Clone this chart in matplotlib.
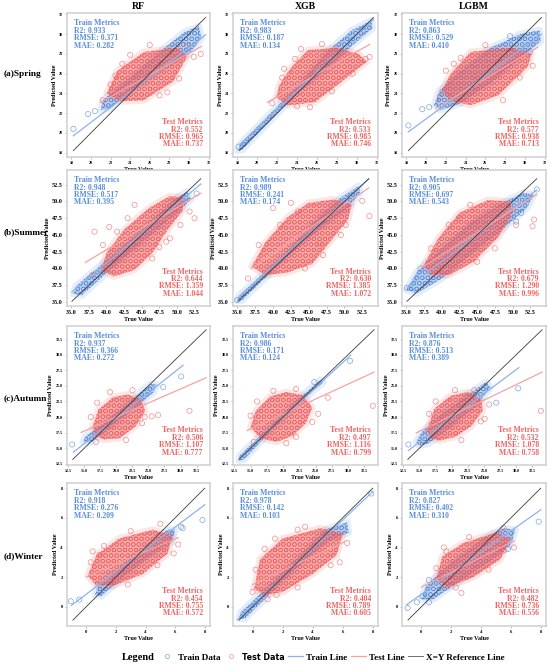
import matplotlib
matplotlib.use('Agg')
import matplotlib.pyplot as plt
from matplotlib.patches import Polygon
from matplotlib.lines import Line2D
from matplotlib.colors import to_rgba

plt.rcParams['font.family'] = ['Liberation Serif', 'DejaVu Serif']
plt.rcParams['hatch.linewidth'] = 0.4

# ---------------- data ----------------
seasons = ['(a)Spring', '(b)Summer', '(c)Autumn', '(d)Winter']
models = ['RF', 'XGB', 'LGBM']

axis_limits = [(17.55, 32.15), (34.4, 54.7), (12.3, 34.6), (-1.3, 8.35)]
tick_values = [[18, 20, 22, 24, 26, 28, 30, 32],
               [35.0, 37.5, 40.0, 42.5, 45.0, 47.5, 50.0, 52.5],
               [12.5, 15.0, 17.5, 20.0, 22.5, 25.0, 27.5, 30.0, 32.5],
               [0, 2, 4, 6, 8]]
tick_labels = [['18', '20', '22', '24', '26', '28', '30', '32'],
               ['35.0', '37.5', '40.0', '42.5', '45.0', '47.5', '50.0', '52.5'],
               ['12.5', '15.0', '17.5', '20.0', '22.5', '25.0', '27.5', '30.0', '32.5'],
               ['0', '2', '4', '6', '8']]

# (R2, RMSE, MAE)
train_metrics = [[(0.933, 0.371, 0.282), (0.983, 0.187, 0.134), (0.863, 0.529, 0.410)],
                 [(0.948, 0.517, 0.395), (0.989, 0.241, 0.174), (0.905, 0.697, 0.543)],
                 [(0.937, 0.366, 0.272), (0.986, 0.171, 0.124), (0.876, 0.513, 0.389)],
                 [(0.918, 0.276, 0.209), (0.978, 0.142, 0.103), (0.827, 0.402, 0.310)]]
test_metrics = [[(0.552, 0.965, 0.737), (0.533, 0.985, 0.746), (0.577, 0.938, 0.713)],
                [(0.644, 1.359, 1.044), (0.630, 1.385, 1.072), (0.679, 1.290, 0.996)],
                [(0.506, 1.107, 0.777), (0.497, 1.116, 0.799), (0.532, 1.078, 0.758)],
                [(0.454, 0.755, 0.572), (0.404, 0.789, 0.605), (0.482, 0.736, 0.556)]]

# fitted lines (slope, intercept)
train_fit = [[(0.758, 5.91), (0.94, 1.70), (0.733, 6.76)],
             [(0.88, 5.62), (0.97, 1.55), (0.80, 9.02)],
             [(0.815, 3.52), (0.96, 0.73), (0.777, 4.31)],
             [(0.755, 0.845), (0.96, 0.09), (0.713, 0.84)]]
test_fit = [[(0.55, 11.56), (0.57, 11.12), (0.60, 9.90)],
            [(0.63, 17.59), (0.73, 13.04), (0.677, 14.92)],
            [(0.45, 11.0), (0.48, 10.88), (0.50, 10.2)],
            [(0.427, 2.01), (0.47, 1.50), (0.50, 1.33)]]
train_x_range = [(18.2, 31.7), (35.1, 53.4), (13.3, 30.4), (-1.0, 8.0)]
test_x_range = [(21.0, 31.3), (37.0, 53.4), (14.5, 34.0), (0.0, 6.2)]
ref_range = [(18.2, 31.7), (35.1, 53.4), (13.2, 34.0), (-0.9, 8.0)]

# dense point clouds (outline of the mass of overlapping markers)
train_cloud = [
    [[(21.0, 22.3), (21.2, 23.3), (24.0, 25.6), (27.5, 28.6), (29.5, 30.2), (31.0, 30.8), (31.3, 29.6), (30.0, 28.0), (27.5, 26.5), (24.0, 24.2), (22.0, 22.5)],
     [(18.0, 18.2), (18.3, 18.9), (24.0, 24.7), (27.0, 28.2), (29.5, 30.4), (31.5, 31.4), (31.6, 30.6), (29.5, 28.8), (27.5, 26.8), (24.0, 24.0), (18.5, 18.3)],
     [(20.8, 22.8), (21.3, 24.2), (23.5, 26.3), (26.5, 28.6), (29.5, 30.0), (31.5, 30.4), (31.6, 29.3), (29.5, 27.5), (26.5, 25.0), (23.5, 23.0), (21.5, 22.3)]],
    [[(35.3, 36.2), (35.6, 37.3), (40.0, 41.2), (45.0, 45.8), (49.5, 50.2), (51.5, 51.5), (52.0, 50.3), (50.0, 48.3), (45.0, 43.8), (40.0, 39.3), (36.5, 36.0)],
     [(35.0, 35.2), (35.2, 35.9), (42.0, 42.6), (46.5, 47.8), (49.5, 50.6), (52.0, 52.3), (52.2, 51.3), (50.3, 48.8), (47.0, 46.3), (42.0, 41.7), (35.6, 35.2)],
     [(35.0, 36.8), (36.5, 39.5), (40.0, 43.0), (44.0, 46.8), (48.0, 49.5), (51.5, 51.3), (53.0, 51.0), (52.0, 49.0), (48.5, 45.8), (44.0, 42.0), (40.0, 38.5), (36.5, 36.3)]],
    [[(14.8, 16.0), (15.2, 16.9), (19.0, 19.8), (22.5, 22.9), (25.3, 25.3), (26.3, 25.2), (25.8, 24.0), (23.0, 21.5), (19.0, 18.3), (16.0, 15.9)],
     [(13.2, 13.0), (13.3, 13.8), (18.0, 18.5), (22.0, 22.6), (25.8, 26.0), (26.2, 25.6), (22.5, 22.2), (18.0, 17.6), (14.0, 13.2)],
     [(14.5, 16.0), (15.3, 17.5), (18.5, 20.5), (22.5, 23.6), (25.3, 25.6), (26.0, 24.8), (24.0, 22.0), (20.0, 18.5), (16.5, 15.8), (15.0, 15.4)]],
    [[(0.6, 0.8), (0.8, 1.5), (2.5, 2.8), (4.5, 4.4), (5.5, 5.2), (6.0, 5.2), (5.8, 4.4), (4.3, 3.4), (2.5, 2.0), (1.0, 0.7)],
     [(-0.9, -0.8), (-0.8, -0.4), (2.5, 2.8), (4.8, 5.2), (6.3, 5.7), (6.4, 5.0), (5.0, 4.4), (2.5, 2.2), (-0.5, -0.8)],
     [(0.0, 0.5), (0.3, 1.4), (2.0, 3.0), (4.0, 4.5), (5.5, 5.3), (6.3, 5.2), (6.0, 4.2), (4.5, 3.0), (2.5, 1.7), (0.8, 0.5)]]]

test_cloud = [
    [[(21.6, 24.0), (22.7, 26.3), (25.4, 28.2), (28.8, 28.6), (29.8, 27.7), (28.4, 25.2), (25.4, 23.3), (23.0, 23.2)],
     [(21.9, 23.6), (22.2, 24.8), (23.3, 26.5), (25.1, 28.4), (28.0, 28.6), (30.2, 28.0), (31.0, 27.2), (28.5, 25.2), (25.8, 23.1), (23.1, 22.8)],
     [(21.6, 24.3), (22.5, 26.0), (24.5, 28.2), (28.6, 28.6), (30.7, 28.0), (30.3, 26.7), (27.3, 23.8), (24.5, 22.8), (22.5, 23.3)]],
    [[(39.3, 39.8), (40.0, 42.3), (42.5, 45.8), (46.0, 49.0), (49.0, 50.8), (51.0, 50.6), (50.8, 48.6), (48.5, 45.5), (46.5, 42.3), (44.0, 39.8), (41.0, 38.8)],
     [(37.0, 40.3), (39.0, 44.0), (42.0, 47.6), (45.0, 49.8), (48.5, 50.3), (51.0, 49.5), (50.5, 47.3), (48.0, 44.0), (45.5, 40.7), (42.0, 39.4), (39.0, 39.0)],
     [(37.5, 40.5), (39.5, 44.5), (42.5, 48.3), (46.5, 50.2), (49.5, 50.0), (50.0, 48.5), (48.0, 44.7), (44.5, 41.0), (41.0, 39.0), (38.5, 39.1)]],
    [[(16.3, 18.5), (17.2, 21.2), (19.5, 23.2), (21.8, 23.6), (23.8, 22.8), (24.5, 21.0), (23.0, 18.5), (20.5, 16.6), (18.0, 16.4), (16.8, 17.0)],
     [(15.0, 18.4), (15.8, 21.0), (18.0, 23.3), (20.5, 24.0), (23.0, 23.5), (24.5, 21.5), (23.5, 19.0), (21.5, 17.0), (19.0, 16.0), (16.5, 16.6)],
     [(16.2, 18.0), (17.3, 21.3), (19.8, 23.4), (22.5, 24.0), (24.6, 22.7), (24.8, 21.0), (23.0, 18.5), (20.5, 16.8), (18.0, 16.2), (16.6, 16.8)]],
    [[(0.1, 2.1), (0.7, 3.5), (2.2, 4.6), (4.5, 5.2), (5.8, 4.8), (5.5, 3.6), (3.8, 2.2), (1.8, 1.4), (0.6, 1.5)],
     [(0.1, 1.2), (0.5, 3.2), (2.0, 4.6), (4.5, 5.3), (6.0, 4.9), (5.6, 3.5), (4.0, 2.2), (2.0, 1.0), (0.8, 0.8)],
     [(1.0, 1.9), (1.4, 3.4), (2.8, 4.3), (5.0, 5.0), (5.9, 4.6), (5.3, 3.2), (3.5, 2.0), (1.7, 1.3)]]]

# isolated / sparse points around the dense masses
train_outliers = [
    [[(18.2, 20.4), (19.7, 21.9), (20.4, 22.2)], [(18.1, 18.6)],
     [(18.2, 20.75), (19.6, 22.4), (20.3, 22.6), (28.5, 29.8), (30.5, 28.2)]],
    [[(52.8, 51.2)], [(35.0, 35.3)], [(35.1, 37.1), (53.4, 51.8), (51.2, 48.3), (37.0, 40.0), (50.5, 47.0)]],
    [[(13.1, 15.6), (30.1, 26.5), (27.3, 24.8)], [(30.3, 29.0), (24.8, 25.6)], [(13.3, 15.6), (26.9, 22.3), (30.3, 24.6)]],
    [[(-1.04, 0.37), (-0.47, 0.48), (6.5, 5.3), (7.84, 5.85), (6.4, 5.4)], [(7.9, 7.64)],
     [(-0.92, -0.08), (0.09, 0.7), (7.86, 5.74), (-0.3, 0.3), (0.5, 0.3), (0.5, 1.8), (5.8, 3.9)]]]
test_outliers = [
    [[(22.5, 25.8), (27.8, 24.1), (30.5, 27.7), (31.2, 28.0), (22.0, 24.9), (23.2, 27.0), (24.0, 27.9), (21.2, 23.3),
      (27.0, 23.8), (29.0, 25.5), (26.0, 28.9), (29.8, 28.9)],
     [(22.7, 26.5), (25.3, 22.6), (31.3, 27.7), (30.9, 27.5), (22.5, 25.6), (23.8, 27.5), (24.4, 28.5), (21.5, 23.0),
      (27.5, 24.2), (29.6, 26.0), (26.5, 29.0), (24.0, 22.7)],
     [(22.0, 26.3), (30.8, 26.8), (22.8, 27.0), (21.4, 23.6), (27.8, 23.3), (29.5, 25.6), (26.0, 28.9), (23.5, 27.6)]],
    [[(51.8, 48.5), (52.5, 47.5), (40.4, 46.2), (49.0, 44.5), (38.3, 45.5), (47.5, 43.2), (39.5, 43.5), (41.5, 45.5),
      (43.0, 47.5), (46.5, 41.5), (48.5, 44.0), (44.0, 49.5), (38.0, 39.0), (50.5, 46.5)],
     [(52.5, 50.1), (53.5, 47.8), (40.0, 49.0), (42.5, 49.8), (46.5, 43.8), (38.0, 43.5), (41.0, 46.5), (43.5, 48.5),
      (47.0, 42.0), (49.5, 45.0), (50.2, 46.5), (44.5, 40.0), (36.5, 38.5)],
     [(52.8, 46.3), (53.0, 47.3), (42.5, 47.5), (38.5, 43.0), (41.0, 46.5), (44.0, 49.5), (47.5, 43.0), (50.5, 46.5),
      (45.0, 41.0)]],
    [[(24.4, 20.0), (26.5, 20.3), (25.5, 20.1), (31.4, 21.0), (16.0, 20.0), (17.0, 22.3), (19.0, 24.0), (22.5, 24.3),
      (24.0, 19.0), (21.5, 16.3), (16.8, 16.0)],
     [(25.4, 20.5), (33.8, 21.8), (26.9, 23.1), (22.0, 16.8), (15.0, 20.2), (16.0, 22.5), (18.5, 24.2), (22.0, 24.5),
      (24.5, 19.2), (20.5, 15.8), (15.5, 16.0)],
     [(25.1, 19.7), (33.8, 21.0), (25.8, 22.0), (16.5, 20.5), (17.5, 22.5), (20.5, 24.3), (23.5, 24.3), (24.5, 19.3),
      (21.5, 16.3)]],
    [[(0.43, 3.73), (0.9, 3.5), (5.9, 3.6), (0.3, 3.0), (1.2, 4.1), (3.0, 5.1), (5.0, 5.6), (4.8, 2.8), (2.8, 1.5),
      (6.2, 4.2)],
     [(3.5, 5.4), (1.6, 0.8), (0.0, 1.0), (5.8, 3.0), (0.2, 2.5), (0.8, 3.9), (1.5, 4.6), (3.0, 5.2), (5.2, 2.8),
      (3.0, 1.3), (6.3, 4.3), (1.0, 0.5)],
     [(1.67, 3.73), (2.68, 0.93), (5.5, 3.8), (1.0, 2.6), (1.5, 4.0), (3.2, 4.7), (5.5, 5.3), (4.5, 2.5), (2.3, 1.3),
      (6.2, 4.0)]]]

# ---------------- style ----------------
TRAIN_C = '#4a82d4'
TEST_C = '#ef5b5b'
TRAIN_TXT = '#5b8fd9'
TEST_TXT = '#f06464'
TRAIN_LINE = '#8db3ea'
TEST_LINE = '#f4a3a3'
REF_C = '#3a3a3a'
SPINE_C = '#cfcfcf'

W, H = 550, 667
fig = plt.figure(figsize=(W / 100, H / 100), dpi=100)

col_px = [(67, 210), (233, 378), (402, 546)]
row_px = [(13, 157), (170, 306), (326, 465), (483, 626)]
tick_fs = [3.0, 4.4, 3.0, 3.4]
label_y_px = [74, 232, 398, 556]


def add_cloud(ax, verts, color, face_alpha, hatch_alpha):
    ax.add_patch(Polygon(verts, closed=True, facecolor='none',
                         edgecolor=to_rgba(color, 0.14), lw=5, joinstyle='round', zorder=2))
    ax.add_patch(Polygon(verts, closed=True, facecolor=to_rgba(color, face_alpha),
                         edgecolor=to_rgba(color, hatch_alpha), hatch='OOO', lw=0, zorder=2))


def add_points(ax, pts, color):
    ax.scatter([p[0] for p in pts], [p[1] for p in pts], s=14, facecolors='none',
               edgecolors=to_rgba(color, 0.7), linewidths=0.5, zorder=3)


for r in range(4):
    lo, hi = axis_limits[r]
    for c in range(3):
        l, rt = col_px[c]
        t, b = row_px[r]
        ax = fig.add_axes([l / W, 1 - b / H, (rt - l) / W, (b - t) / H])
        ax.set_xlim(lo, hi)
        ax.set_ylim(lo, hi)

        add_cloud(ax, train_cloud[r][c], TRAIN_C, 0.35, 0.8)
        add_points(ax, train_outliers[r][c], TRAIN_C)
        add_cloud(ax, test_cloud[r][c], TEST_C, 0.5, 0.85)
        add_points(ax, test_outliers[r][c], TEST_C)

        m, k = train_fit[r][c]
        xr = list(train_x_range[r])
        ax.plot(xr, [m * x + k for x in xr], color=TRAIN_LINE, lw=0.9, zorder=4)
        m, k = test_fit[r][c]
        xr = list(test_x_range[r])
        ax.plot(xr, [m * x + k for x in xr], color=TEST_LINE, lw=0.9, zorder=4)
        xr = list(ref_range[r])
        ax.plot(xr, xr, color=REF_C, lw=0.6, zorder=5)

        R2, RMSE, MAE = train_metrics[r][c]
        ax.text(0.05, 0.955, f'Train Metrics\nR2: {R2:.3f}\nRMSE: {RMSE:.3f}\nMAE: {MAE:.3f}',
                transform=ax.transAxes, ha='left', va='top', fontsize=5.6, fontweight='bold',
                color=TRAIN_TXT, linespacing=0.9, zorder=6)
        R2, RMSE, MAE = test_metrics[r][c]
        ax.text(0.95, 0.06, f'Test Metrics\nR2: {R2:.3f}\nRMSE: {RMSE:.3f}\nMAE: {MAE:.3f}',
                transform=ax.transAxes, ha='right', va='bottom', multialignment='right',
                fontsize=5.6, fontweight='bold', color=TEST_TXT, linespacing=0.9, zorder=6)

        ax.set_xticks(tick_values[r])
        ax.set_xticklabels(tick_labels[r])
        ax.set_yticks(tick_values[r])
        ax.set_yticklabels(tick_labels[r])
        ax.tick_params(labelsize=tick_fs[r], length=1.5, width=0.4, color='#888888', pad=1.5)
        for lab in ax.get_xticklabels() + ax.get_yticklabels():
            lab.set_fontweight('bold')
        for s in ax.spines.values():
            s.set_color(SPINE_C)
            s.set_linewidth(1.1)
        ax.set_xlabel('True Value', fontsize=4.4, fontweight='bold', labelpad=1)
        ax.set_ylabel('Predicted Value', fontsize=4.4, fontweight='bold', labelpad=1.5)
        if r == 0:
            ax.set_title(models[c], fontsize=7, fontweight='bold', pad=3)
    fig.text(4 / W, 1 - label_y_px[r] / H, seasons[r], fontsize=6.7, fontweight='bold', ha='left', va='center')

# ---------------- legend ----------------
fig.text(122 / W, 1 - 657 / H, 'Legend', fontsize=7.5, fontweight='bold', ha='left', va='center')
handles = [Line2D([], [], marker='o', ls='none', markerfacecolor='none', markeredgecolor=TRAIN_LINE, ms=3, mew=0.6),
           Line2D([], [], marker='o', ls='none', markerfacecolor='none', markeredgecolor=TEST_LINE, ms=3, mew=0.6),
           Line2D([], [], color=TRAIN_LINE, lw=0.9),
           Line2D([], [], color=TEST_LINE, lw=0.9),
           Line2D([], [], color='#555555', lw=0.6)]
labels = ['Train Data', 'Test Data', 'Train Line', 'Test Line', 'X=Y Reference Line']
leg = fig.legend(handles, labels, loc='center left', bbox_to_anchor=(160 / W, 1 - 657 / H), ncol=5,
                 frameon=False, prop={'weight': 'bold', 'size': 6.6}, handlelength=1.6,
                 columnspacing=0.4, handletextpad=0.35, borderpad=0, borderaxespad=0)
leg.get_texts()[1].set_fontfamily('DejaVu Sans')
leg.get_texts()[1].set_fontsize(5.8)

fig.savefig('out.png', dpi=100)
